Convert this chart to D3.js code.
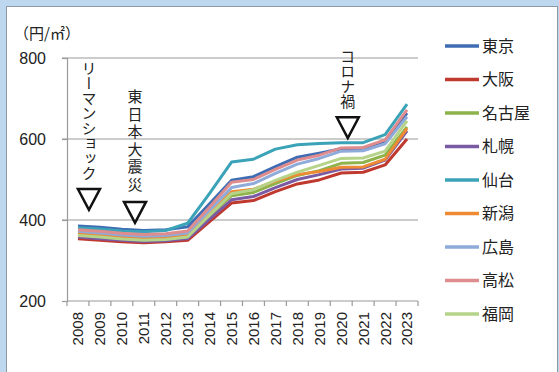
<!DOCTYPE html>
<html>
<head>
<meta charset="utf-8">
<script src="https://cdn.jsdelivr.net/npm/d3@7"></script>
<style>
  html, body { margin: 0; padding: 0; background: #BDD7EE; }
  svg { display: block; }
  text { font-family: "Noto Sans CJK JP", "Noto Sans", sans-serif; fill: #222; }
  .num { font-family: "Liberation Sans", Arial, sans-serif; }
</style>
</head>
<body>
<svg id="chart" width="559" height="372"></svg>
<script>
// Land price per square metre (円/㎡), 2008–2023
const years = ["2008","2009","2010","2011","2012","2013","2014","2015","2016","2017","2018","2019","2020","2021","2022","2023"];

const cities = ["東京","大阪","名古屋","札幌","仙台","新潟","広島","高松","福岡"];

const tokyo   = [385,382,377,374,376,383,440,498,507,532,555,565,576,577,595,664];
const osaka   = [354,350,346,344,346,350,396,442,448,470,489,499,516,518,536,600];
const nagoya  = [364,360,355,352,354,360,410,460,468,490,510,522,540,542,560,630];
const sapporo = [358,354,350,347,349,354,402,450,458,480,500,512,526,528,548,620];
const sendai  = [381,378,373,371,374,392,466,543,550,575,586,589,591,591,611,686];
const niigata = [367,363,358,355,357,362,414,470,476,496,512,520,530,531,550,626];
const hiroshima=[372,368,363,360,362,368,425,480,490,515,538,552,570,571,588,655];
const takamatsu=[376,372,367,364,366,373,432,493,500,525,548,560,578,579,598,672];
const fukuoka = [362,358,353,350,352,358,412,465,475,498,518,535,552,553,570,645];

const seriesValues = [tokyo, osaka, nagoya, sapporo, sendai, niigata, hiroshima, takamatsu, fukuoka];
const seriesColors = ["#3F6DB3","#C0392F","#8DB34A","#7A5BA3","#3BA3B8","#EE8A34","#8EABDA","#DE8C8E","#B5D48A"];

const yTicks = [200, 400, 600, 800];
const yUnit = "（円/㎡）";

// Event markers: label and fractional year position, plus the value at the marker tip
const eventLabels = ["リーマンショック", "東日本大震災", "コロナ禍"];
const eventYears  = [2008.5, 2010.6, 2020.3];
const eventTips   = [425, 393, 602];

const svg = d3.select("#chart");

// white panel
svg.append("rect")
  .attr("x", 6.5).attr("y", 6.5)
  .attr("width", 551).attr("height", 372)
  .attr("fill", "#fff").attr("stroke", "#8c9aa6").attr("stroke-width", 1);

const plot = { left: 67, right: 418, top: 58, bottom: 301 };

const x = d3.scaleBand().domain(years).range([plot.left, plot.right]);
const xc = d => x(d) + x.bandwidth() / 2;
const y = d3.scaleLinear().domain([200, 800]).range([plot.bottom, plot.top]);

// grid lines
svg.append("g")
  .selectAll("line")
  .data(yTicks.filter(t => t > 200))
  .join("line")
  .attr("x1", plot.left - 5).attr("x2", plot.right)
  .attr("y1", d => y(d)).attr("y2", d => y(d))
  .attr("stroke", "#9a9a9a").attr("stroke-width", 1.2);

// y axis
const yAxis = svg.append("g")
  .attr("transform", `translate(${plot.left},0)`)
  .call(d3.axisLeft(y).tickValues(yTicks).tickSize(5).tickPadding(16));
yAxis.select(".domain").attr("stroke", "#9a9a9a").attr("stroke-width", 1.2);
yAxis.selectAll(".tick line").attr("stroke", "#9a9a9a").attr("stroke-width", 1.2);
yAxis.selectAll(".tick text")
  .attr("class", "num")
  .style("font-size", "16px").style("fill", "#222");

// x axis (band boundaries as ticks)
const xAxis = svg.append("g")
  .attr("transform", `translate(0,${plot.bottom})`);
xAxis.append("line")
  .attr("x1", plot.left).attr("x2", plot.right)
  .attr("stroke", "#9a9a9a").attr("stroke-width", 1.2);
xAxis.selectAll("line.tk")
  .data(years.concat(["end"]))
  .join("line").attr("class", "tk")
  .attr("x1", (d, i) => plot.left + i * x.bandwidth())
  .attr("x2", (d, i) => plot.left + i * x.bandwidth())
  .attr("y1", 0).attr("y2", 5)
  .attr("stroke", "#9a9a9a").attr("stroke-width", 1.2);
xAxis.selectAll("text")
  .data(years)
  .join("text")
  .attr("class", "num")
  .attr("transform", d => `translate(${xc(d)},11) rotate(-90)`)
  .attr("text-anchor", "end")
  .attr("dy", "0.36em")
  .style("font-size", "15px")
  .text(d => d);

// unit label
svg.append("text")
  .attr("x", 14).attr("y", 39)
  .style("font-size", "15px")
  .text(yUnit);

// series lines
const line = d3.line()
  .x((d, i) => xc(years[i]))
  .y(d => y(d));

svg.append("g")
  .selectAll("path")
  .data(seriesValues)
  .join("path")
  .attr("d", d => line(d))
  .attr("fill", "none")
  .attr("stroke", (d, i) => seriesColors[i])
  .attr("stroke-width", 3)
  .attr("stroke-linejoin", "round");

// event markers
const step = x.bandwidth();
const ex = t => xc(years[0]) + (t - +years[0]) * step;
const tri = 22;
const ev = svg.append("g");
eventLabels.forEach((lab, i) => {
  const cx = ex(eventYears[i]);
  const tipY = y(eventTips[i]);
  const topY = tipY - tri * 0.95;
  ev.append("path")
    .attr("d", `M${cx - tri / 2},${topY} L${cx + tri / 2},${topY} L${cx},${tipY} Z`)
    .attr("fill", "none").attr("stroke", "#111").attr("stroke-width", 2.5)
    .attr("stroke-linejoin", "miter");
  ev.append("text")
    .attr("x", cx).attr("y", topY - 8)
    .attr("text-anchor", "end")
    .style("writing-mode", "vertical-rl")
    .style("font-size", "15px")
    .style("letter-spacing", i === 1 ? "2.5px" : "0px")
    .text(lab);
});

// legend
const legend = svg.append("g");
cities.forEach((c, i) => {
  const ly = 46 + i * 33.5;
  legend.append("line")
    .attr("x1", 445).attr("x2", 479)
    .attr("y1", ly).attr("y2", ly)
    .attr("stroke", seriesColors[i]).attr("stroke-width", 3.5);
  legend.append("text")
    .attr("x", 482).attr("y", ly)
    .attr("dy", "0.36em")
    .style("font-size", "16px")
    .text(c);
});
</script>
</body>
</html>
